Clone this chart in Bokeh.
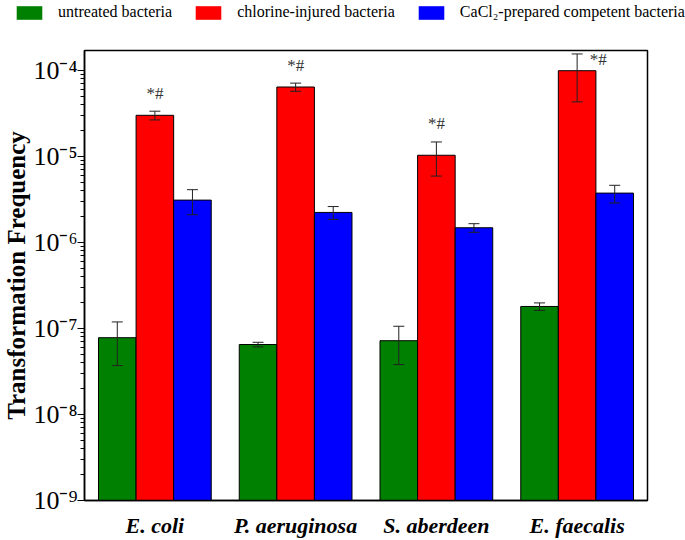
from bokeh.plotting import figure
from bokeh.layouts import column
from bokeh.models import (FixedTicker, Whisker, ColumnDataSource, Legend, LegendItem,
                          TeeHead, Range1d)
from bokeh.embed import file_html
from bokeh.resources import INLINE
from bokeh.core.properties import value

# ---------------- data ----------------
species = ["E. coli", "P. aeruginosa", "S. aberdeen", "E. faecalis"]
series_names = ["untreated bacteria", "chlorine-injured bacteria",
                "CaCl\u2082-prepared competent bacteria"]
untreated = [7.8e-8, 6.5e-8, 7.2e-8, 1.8e-7]
untreated_err = [4.1e-8, 4.0e-9, 3.4e-8, 1.8e-8]
chlorine = [3.0e-5, 6.4e-5, 1.03e-5, 9.9e-5]
chlorine_err = [3.5e-6, 7.0e-6, 4.4e-6, 5.6e-5]
cacl2 = [3.1e-6, 2.23e-6, 1.48e-6, 3.74e-6]
cacl2_err = [1.0e-6, 3.8e-7, 1.7e-7, 8.7e-7]
sig_marks = ["*#", "*#", "*#", "*#"]
y_ticks = [1e-9, 1e-8, 1e-7, 1e-6, 1e-5, 1e-4]
y_tick_labels = ["10\u207b\u2079", "10\u207b\u2078", "10\u207b\u2077",
                 "10\u207b\u2076", "10\u207b\u2075", "10\u207b\u2074"]

colors = ["#008000", "#FF0000", "#0000FF"]
FONT = "Liberation Serif"
Y_START, Y_END = 1e-9, 1.7e-4
BAR_W = 0.267
LEG_H = 25

series = [(untreated, untreated_err), (chlorine, chlorine_err), (cacl2, cacl2_err)]
offsets = [-BAR_W, 0.0, BAR_W]
sources = []
for (vals, errs), off in zip(series, offsets):
    sources.append(ColumnDataSource(dict(
        x=[i + off for i in range(len(species))], top=vals,
        upper=[v + e for v, e in zip(vals, errs)],
        lower=[v - e for v, e in zip(vals, errs)],
    )))

# ---------------- legend strip (own figure, full-width frame) ----------------
lfig = figure(width=685, height=LEG_H, output_backend="svg", toolbar_location=None,
              x_range=Range1d(-0.5, 3.5), y_range=Range1d(1.0, 2.0),
              x_axis_location=None, y_axis_location=None, min_border=0)
lfig.frame_align = False
lfig.outline_line_color = None
lfig.xgrid.visible = False
lfig.ygrid.visible = False
# legend proxies share the bar data; the strip's y-range keeps them out of view
leg_renderers = [lfig.vbar(x="x", top="top", bottom=Y_START, width=BAR_W, source=s,
                           fill_color=c, line_color=None)
                 for s, c in zip(sources, colors)]
legend = Legend(items=[LegendItem(label=n, renderers=[r]) for n, r in zip(series_names, leg_renderers)],
                orientation="horizontal", location=(13, 4),
                glyph_width=32, glyph_height=17, label_standoff=13, spacing=20,
                padding=0, margin=0, border_line_color=None, background_fill_alpha=0,
                label_text_font=FONT, label_text_font_size="16px", label_text_color="black")
lfig.add_layout(legend, "center")

# ---------------- main chart ----------------
p = figure(width=685, height=540 - LEG_H, output_backend="svg", toolbar_location=None,
           y_axis_type="log", x_range=Range1d(-0.5, 3.5), y_range=Range1d(Y_START, Y_END),
           min_border_left=83, min_border_right=38, min_border_top=50 - LEG_H, min_border_bottom=39)
p.frame_align = False

for k, src in enumerate(sources):
    p.vbar(x="x", top="top", bottom=Y_START, width=BAR_W, source=src,
           fill_color=colors[k], line_color="black", line_width=1)
    w = Whisker(source=src, base="x", upper="upper", lower="lower",
                line_color="#222222", line_width=1, level="overlay",
                upper_head=TeeHead(size=11, line_color="#222222", line_width=1),
                lower_head=TeeHead(size=11, line_color="#222222", line_width=1))
    p.add_layout(w)

# significance marks above chlorine-injured bars
mark_x, mark_y, mark_yoff = [], [], []
for i, (v, e) in enumerate(zip(chlorine, chlorine_err)):
    if i == len(species) - 1:
        mark_x.append(i + 0.15)
        mark_yoff.append(6)
    else:
        mark_x.append(i)
        mark_yoff.append(-18)
    mark_y.append(v + e)
msrc = ColumnDataSource(dict(x=mark_x, y=mark_y, t=sig_marks, yo=mark_yoff))
p.text(x="x", y="y", text="t", y_offset="yo", source=msrc, text_align="center",
       text_baseline="middle", text_font=value(FONT), text_font_size="17px",
       text_color="#333333")

# axes
p.xgrid.visible = False
p.ygrid.visible = False
p.outline_line_color = "black"
p.outline_line_width = 1.5

p.xaxis.ticker = FixedTicker(ticks=list(range(len(species))))
p.xaxis.major_label_overrides = {i: s for i, s in enumerate(species)}
p.xaxis.major_label_text_font = FONT
p.xaxis.major_label_text_font_style = "bold italic"
p.xaxis.major_label_text_font_size = "22px"
p.xaxis.major_label_text_color = "black"
p.xaxis.major_tick_line_color = None
p.xaxis.minor_tick_line_color = None
p.xaxis.axis_line_width = 1.5
p.xaxis.major_label_standoff = 6

minor = [m * t for t in y_ticks[:-1] for m in range(2, 10)] + [m * 1e-4 for m in range(2, 10)]
p.yaxis.ticker = FixedTicker(ticks=y_ticks, minor_ticks=minor)
p.yaxis.major_label_overrides = {t: s for t, s in zip(y_ticks, y_tick_labels)}
p.yaxis.major_label_text_font = FONT
p.yaxis.major_label_text_font_size = "26px"
p.yaxis.major_label_text_color = "black"
p.yaxis.major_label_standoff = 0
p.yaxis.axis_line_width = 1.5
p.yaxis.major_tick_out = 7
p.yaxis.major_tick_in = 0
p.yaxis.minor_tick_out = 4
p.yaxis.minor_tick_in = 0
p.yaxis.major_tick_line_width = 1.2
p.yaxis.minor_tick_line_width = 1
p.yaxis.axis_label = "Transformation Frequency"
p.yaxis.axis_label_text_font = FONT
p.yaxis.axis_label_text_font_style = "bold"
p.yaxis.axis_label_text_font_size = "25px"
p.yaxis.axis_label_text_color = "black"
p.yaxis.axis_label_standoff = 0

layout = column(lfig, p, spacing=0)
open("out.html", "w").write(file_html(layout, INLINE))
